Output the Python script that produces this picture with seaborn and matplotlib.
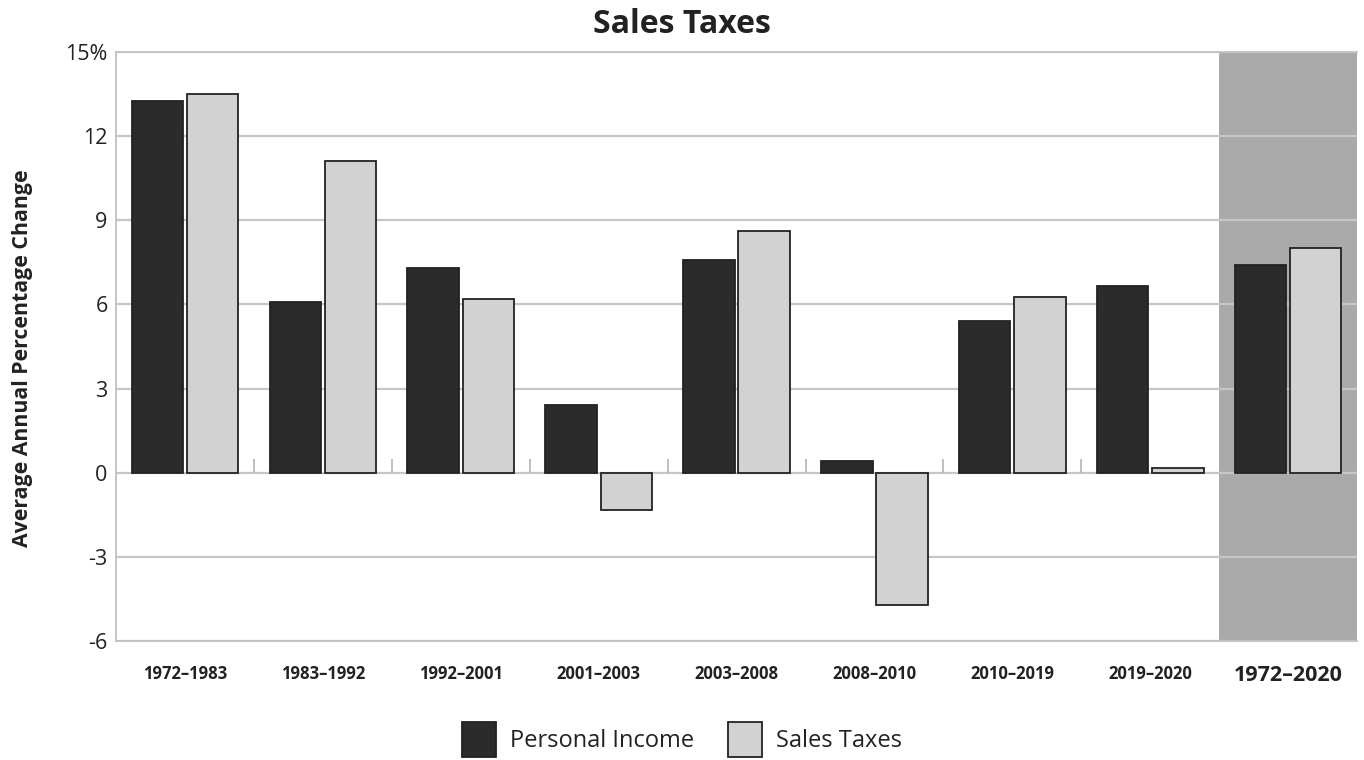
import matplotlib
matplotlib.use("Agg")
import matplotlib.pyplot as plt
import seaborn as sns
import pandas as pd
from matplotlib.ticker import FixedLocator, FixedFormatter
from matplotlib.patches import Patch

periods = ["1972–1983", "1983–1992", "1992–2001", "2001–2003", "2003–2008",
           "2008–2010", "2010–2019", "2019–2020", "1972–2020"]
personal_income = [13.25, 6.1, 7.3, 2.4, 7.6, 0.4, 5.4, 6.65, 7.4]
sales_taxes = [13.5, 11.1, 6.2, -1.32, 8.6, -4.7, 6.25, 0.18, 8.0]
series = ["Personal Income", "Sales Taxes"]
yticks = [-6, -3, 0, 3, 6, 9, 12, 15]
ytick_labels = ["-6", "-3", "0", "3", "6", "9", "12", "15%"]

df = pd.DataFrame({
    "period": periods * 2,
    "series": [series[0]] * len(periods) + [series[1]] * len(periods),
    "value": personal_income + sales_taxes,
})

sns.set_theme(style="white")
plt.rcParams["font.family"] = ["Open Sans", "DejaVu Sans"]

fig = plt.figure(figsize=(13.64, 7.6), dpi=100)
ax = fig.add_axes([0.085, 0.1566, 0.91, 0.775])

colors = {"Personal Income": "#2b2b2b", "Sales Taxes": "#d2d2d2"}
sns.barplot(data=df, x="period", y="value", hue="series", order=periods,
            hue_order=series, palette=colors, width=0.8, gap=0.07,
            edgecolor="#222222", linewidth=1.3, legend=False, ax=ax, zorder=2)

ax.set_xlim(-0.5, len(periods) - 0.5)
ax.set_ylim(-6, 15)
ax.axvspan(len(periods) - 1.5, len(periods) - 0.5, color="#aaaaaa", zorder=0.2, lw=0)

ax.set_axisbelow(True)
ax.yaxis.set_major_locator(FixedLocator(yticks))
ax.yaxis.set_major_formatter(FixedFormatter(ytick_labels))
ax.grid(axis="y", color="#c6c6c6", linewidth=1.6, zorder=0.5)
ax.grid(axis="x", visible=False)

# small separator ticks on the zero line
ax.vlines([i + 0.5 for i in range(len(periods) - 2)], 0, 0.5,
          color="#b5b5b5", linewidth=1.2, zorder=0.6)

for s in ["left", "top", "bottom", "right"]:
    ax.spines[s].set_color("#c0c0c0")
    ax.spines[s].set_linewidth(1.3)
ax.spines["right"].set_visible(False)

ax.tick_params(axis="y", length=0, labelsize=15.5, colors="#222222", pad=6)
ax.tick_params(axis="x", length=0, labelsize=12, colors="#222222", pad=17)
for lbl in ax.get_xticklabels():
    lbl.set_fontweight("bold")
ax.get_xticklabels()[-1].set_fontsize(15.5)

ax.set_xlabel("")
ax.set_ylabel("Average Annual Percentage Change", fontsize=15.3, fontweight="bold",
              color="#222222")
ax.yaxis.set_label_coords(-0.0665, 0.48)
fig.suptitle("Sales Taxes", fontsize=23, fontweight="bold", color="#222222", y=0.99)

handles = [Patch(facecolor=colors[s], edgecolor="#222222", linewidth=1.3) for s in series]
fig.legend(handles, series, loc="lower center", bbox_to_anchor=(0.5, -0.024), ncol=2,
           frameon=False, fontsize=17, handlelength=1.45, handleheight=1.9,
           columnspacing=1.4, handletextpad=0.6, labelcolor="#222222")

fig.savefig("out.png", dpi=100, facecolor="white")
